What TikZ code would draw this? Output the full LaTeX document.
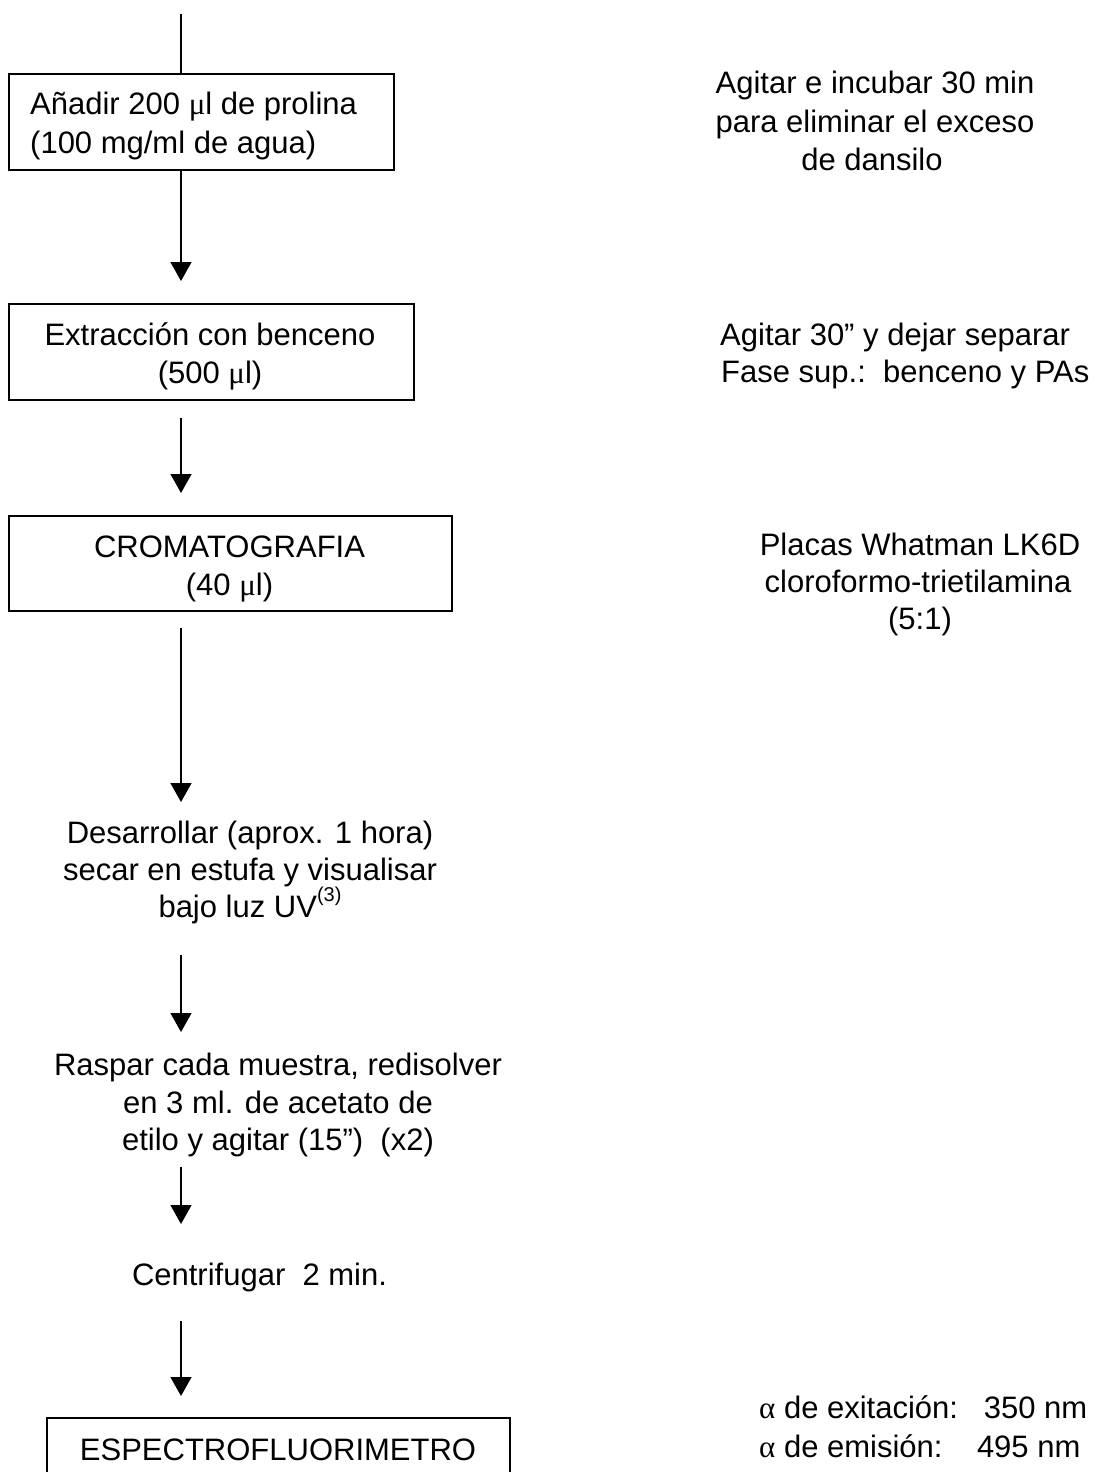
\documentclass[tikz,border=0pt]{standalone}
\usepackage{fontspec}
\setmainfont{Liberation Sans}
\newfontfamily\grk{Liberation Serif}
\usetikzlibrary{arrows.meta}
\tikzset{
  stepbox/.style={draw, line width=1.8pt, inner sep=0pt, anchor=north west},
  txt/.style={inner sep=0pt, anchor=base, font=\fontsize{31}{38}\selectfont},
  txtl/.style={txt, anchor=base west},
  flow/.style={line width=1.5pt},
  arr/.style={flow, -{Triangle[width=21pt,length=19pt]}},
}
\begin{document}
\begin{tikzpicture}[x=1pt,y=-1pt]
\useasboundingbox (0,0) rectangle (1097,1472);
\fill[white] (0,0) rectangle (1097,1472);
\clip (0,0) rectangle (1097,1472);

% boxes
\node[stepbox, minimum width=385pt, minimum height=96pt] (box1) at (8,73) {};
\node[stepbox, minimum width=405pt, minimum height=96pt] (box2) at (8,303) {};
\node[stepbox, minimum width=443pt, minimum height=95pt] (box3) at (8,515) {};
\node[stepbox, minimum width=463pt, minimum height=100pt] (box4) at (46,1417) {};

% texts inside boxes
\node[txtl] (b1a) at (30,114) {Añadir 200 {\grk μ}l de prolina};
\node[txtl] (b1b) at (30,153) {(100 mg/ml de agua)};
\node[txt] (b2a) at (210,345) {Extracción con benceno};
\node[txt] (b2b) at (210,383) {(500 {\grk μ}l)};
\node[txt] (b3a) at (229.5,557) {CROMATOGRAFIA};
\node[txt] (b3b) at (229.5,595) {(40 {\grk μ}l)};
\node[txt] (b4a) at (278,1460) {ESPECTROFLUORIMETRO};

% free steps
\node[txt] (d1) at (250,843) {Desarrollar (aprox. 1 hora)};
\node[txt] (d2) at (250,880) {secar en estufa y visualisar};
\node[txt] (d3) at (250,917) {bajo luz UV\raisebox{16pt}{\fontsize{20}{20}\selectfont(3)}};
\node[txt] (r1) at (278,1075) {Raspar cada muestra, redisolver};
\node[txt] (r2) at (278,1113) {en 3 ml. de acetato de};
\node[txt] (r3) at (278,1150) {etilo y agitar (15”)\ \ (x2)};
\node[txt] (c1) at (259.5,1285) {Centrifugar\ \ 2 min.};

% right-hand notes
\node[txt] (n1a) at (875,93) {Agitar e incubar 30 min};
\node[txt] (n1b) at (875,132) {para eliminar el exceso};
\node[txt] (n1c) at (872,170) {de dansilo};
\node[txtl] (n2a) at (720,345) {Agitar 30” y dejar separar};
\node[txtl] (n2b) at (721,382) {Fase sup.:\ \ benceno y PAs};
\node[txt] (n3a) at (920,555) {Placas Whatman LK6D};
\node[txt] (n3b) at (918,592) {cloroformo-trietilamina};
\node[txt] (n3c) at (920,629) {(5:1)};
\node[txtl] (n4a) at (759,1418) {{\grk α} de exitación:\ \ \ 350 nm};
\node[txtl] (n4b) at (759,1457) {{\grk α} de emisión:\ \ \ \ 495 nm};

% connectors
\coordinate (top) at (181,14);
\coordinate (t1) at (181,281);
\coordinate (s2) at (181,418);
\coordinate (t2) at (181,493);
\coordinate (s3) at (181,628);
\coordinate (t3) at (181,802);
\coordinate (s4) at (181,955);
\coordinate (t4) at (181,1032);
\coordinate (s5) at (181,1167);
\coordinate (t5) at (181,1224);
\coordinate (s6) at (181,1321);
\coordinate (t6) at (181,1396);

\draw[flow] (top) -- (top |- box1.north);
\draw[arr] (top |- box1.south) -- (t1);
\draw[arr] (s2) -- (t2);
\draw[arr] (s3) -- (t3);
\draw[arr] (s4) -- (t4);
\draw[arr] (s5) -- (t5);
\draw[arr] (s6) -- (t6);
\end{tikzpicture}
\end{document}
